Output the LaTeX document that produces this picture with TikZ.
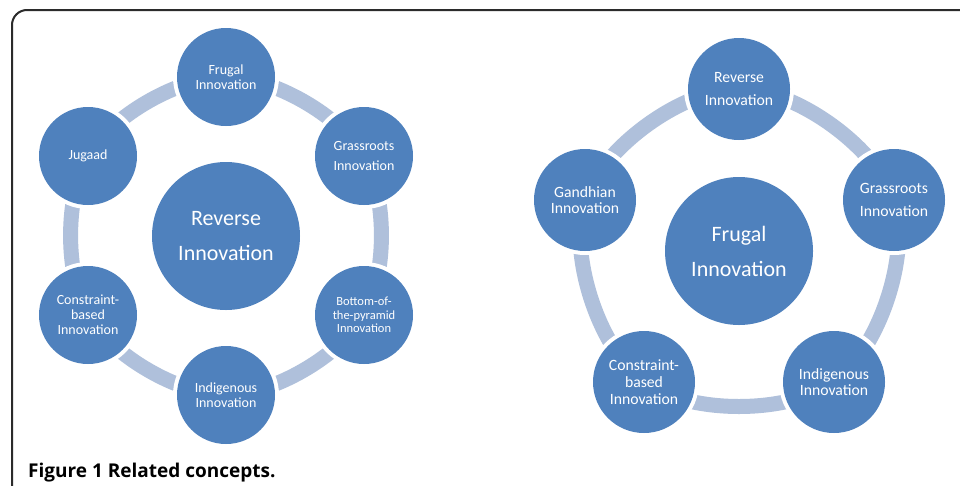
\documentclass[tikz,border=0pt]{standalone}
\usepackage{fontspec}
\setmainfont{Carlito}
\newfontfamily\capfont{Open Sans}
\usetikzlibrary{backgrounds}
\definecolor{nodeblue}{HTML}{4F81BD}
\definecolor{ringblue}{HTML}{AFC0DB}
\definecolor{framegray}{HTML}{2B2B2B}
\tikzset{
  bub/.style={circle, fill=nodeblue, text=white, inner sep=0pt, align=center,
    preaction={draw=white, line width=8pt}},
  small/.style={bub, minimum size=98pt},
  smallr/.style={bub, minimum size=102pt},
  big/.style={bub, minimum size=148pt, font=\fontsize{22}{35}\selectfont},
  ringhex/.style={draw=ringblue, line width=15pt, bend left=30, looseness=0.75},
  ringpent/.style={draw=ringblue, line width=15pt, bend left=36, looseness=0.75},
  frame/.style={draw=framegray, line width=2pt, rounded corners=15pt}
}
\begin{document}
\begin{tikzpicture}[x=1pt,y=-1pt]
\useasboundingbox (0,0) rectangle (960,485);
\coordinate (fa) at (12,495);
\coordinate (fb) at (12,10);
\coordinate (fc) at (970,10);
\draw[frame] (fa) -- (fb) -- (fc);

% left diagram
\node[big] (LC) at (226,236) {Reverse\\Innovation};
\node[small, font=\fontsize{14}{15}\selectfont] (LF) at (226,77) {Frugal\\Innovation};
\node[small, font=\fontsize{14}{20}\selectfont] (LG) at (364,156) {Grassroots\\Innovation};
\node[small, font=\fontsize{12.5}{13.3}\selectfont] (LB) at (364,315) {Bottom-of-\\the-pyramid\\Innovation};
\node[small, font=\fontsize{14}{15}\selectfont] (LI) at (226,395) {Indigenous\\Innovation};
\node[small, font=\fontsize{14}{15}\selectfont] (LK) at (88,315) {Constraint-\\based\\Innovation};
\node[small, font=\fontsize{14}{15}\selectfont] (LJ) at (88,156) {Jugaad};

% right diagram
\node[big] (RC) at (739,251) {Frugal\\Innovation};
\node[smallr, font=\fontsize{15.7}{23}\selectfont] (RR) at (739,89) {Reverse\\Innovation};
\node[smallr, font=\fontsize{15.7}{23}\selectfont] (RG) at (894,200) {Grassroots\\Innovation};
\node[smallr, font=\fontsize{15.7}{16.7}\selectfont] (RI) at (834,382) {Indigenous\\Innovation};
\node[smallr, font=\fontsize{15.7}{16.8}\selectfont] (RK) at (644,382) {Constraint-\\based\\Innovation};
\node[smallr, font=\fontsize{15.7}{16.5}\selectfont] (RD) at (585,200) {Gandhian\\Innovation};

\begin{scope}[on background layer]
\fill[white] (0,0) rectangle (960,485);
\draw[ringhex] (LF.center) to (LG.center);
\draw[ringhex] (LG.center) to (LB.center);
\draw[ringhex] (LB.center) to (LI.center);
\draw[ringhex] (LI.center) to (LK.center);
\draw[ringhex] (LK.center) to (LJ.center);
\draw[ringhex] (LJ.center) to (LF.center);
\draw[ringpent] (RR.center) to (RG.center);
\draw[ringpent] (RG.center) to (RI.center);
\draw[ringpent] (RI.center) to (RK.center);
\draw[ringpent] (RK.center) to (RD.center);
\draw[ringpent] (RD.center) to (RR.center);
\end{scope}

\node[anchor=base west, font=\capfont\bfseries\fontsize{19}{22}\selectfont, inner sep=0pt] (cap) at (28,477) {Figure 1 Related concepts.};
\end{tikzpicture}
\end{document}
